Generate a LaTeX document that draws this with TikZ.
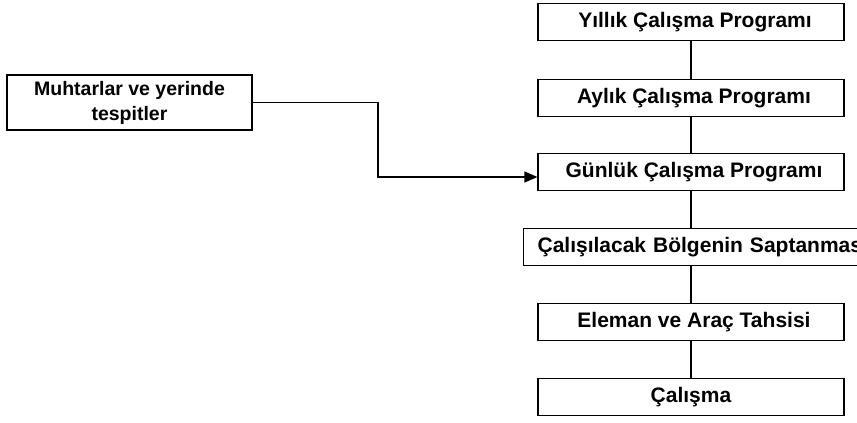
\documentclass[tikz,border=0pt]{standalone}
\usepackage{fontspec}
\setmainfont{Liberation Sans}
\usetikzlibrary{arrows.meta,calc}
\tikzset{
  stepbox/.style={draw, line width=1.2pt, rectangle, minimum width=306pt, minimum height=37pt, inner sep=0pt, font=\fontsize{21}{25}\selectfont\bfseries},
  conn/.style={line width=1.2pt},
}
\begin{document}
\begin{tikzpicture}[x=1pt,y=-1pt]
\useasboundingbox (0,0) rectangle (857,423);
\clip (0,0) rectangle (857,423);
\node[stepbox] (y) at (691,22) {\hspace{8pt}Yıllık Çalışma Programı};
\node[stepbox] (a) at (691,98) {\hspace{6pt}Aylık Çalışma Programı};
\node[stepbox] (g) at (691,172) {\hspace{6pt}Günlük Çalışma Programı};
\node[stepbox, anchor=west, minimum width=370pt, inner xsep=0pt, align=left, text width=356pt] (b) at (523,247) {\hspace{7pt}Çalışılacak Bölgenin Saptanması};
\node[stepbox] (e) at (691,322) {\hspace{6pt}Eleman ve Araç Tahsisi};
\node[stepbox] (c) at (691,397) {Çalışma};
\node[stepbox, minimum width=245pt, minimum height=55pt, align=center, font=\fontsize{19.5}{25}\selectfont\bfseries] (m) at (129.5,102.5) {Muhtarlar ve yerinde\\tespitler};
\draw[conn] (y.south) -- (a.north);
\draw[conn] (a.south) -- (g.north);
\draw[conn] (g.south) -- (g.south |- b.north);
\draw[conn] (e.north |- b.south) -- (e.north);
\draw[conn] (e.south) -- (c.north);
\coordinate (t) at ($(g.west)+(0,5)$);
\draw[conn, -{Triangle[length=13pt,width=11pt]}] (m.east) -- (378,102.5) |- (t);
\end{tikzpicture}
\end{document}
